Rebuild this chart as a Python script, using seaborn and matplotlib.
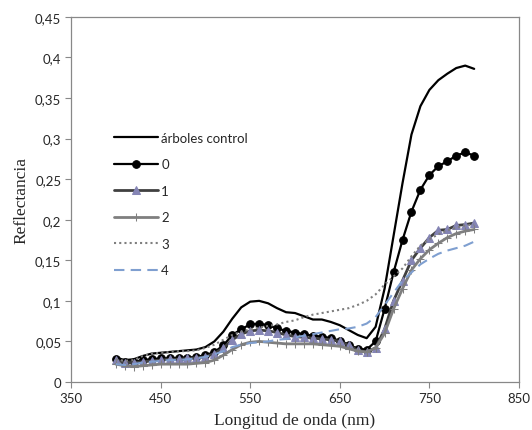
import matplotlib
import matplotlib.pyplot as plt
import pandas as pd
import seaborn as sns
from matplotlib.ticker import FuncFormatter

matplotlib.use("Agg")

WAVELENGTH = [400, 410, 420, 430, 440, 450, 460, 470, 480, 490,
              500, 510, 520, 530, 540, 550, 560, 570, 580, 590,
              600, 610, 620, 630, 640, 650, 660, 670, 680, 690,
              700, 710, 720, 730, 740, 750, 760, 770, 780, 790, 800]

CONTROL = [0.030, 0.027, 0.028, 0.032, 0.035, 0.036, 0.037, 0.038, 0.039, 0.040,
           0.043, 0.050, 0.062, 0.078, 0.092, 0.099, 0.100, 0.097, 0.091, 0.086,
           0.085, 0.081, 0.077, 0.077, 0.074, 0.070, 0.064, 0.058, 0.054, 0.068,
           0.115, 0.180, 0.245, 0.305, 0.340, 0.360, 0.372, 0.380, 0.387, 0.390, 0.386]

T0 = [0.028, 0.025, 0.025, 0.027, 0.028, 0.029, 0.029, 0.030, 0.030, 0.031,
      0.033, 0.037, 0.045, 0.058, 0.065, 0.071, 0.072, 0.070, 0.066, 0.063,
      0.061, 0.059, 0.057, 0.056, 0.054, 0.051, 0.046, 0.041, 0.040, 0.050,
      0.090, 0.135, 0.175, 0.210, 0.237, 0.255, 0.266, 0.272, 0.279, 0.283, 0.279]

T1 = [0.027, 0.024, 0.024, 0.025, 0.026, 0.027, 0.028, 0.028, 0.029, 0.030,
      0.031, 0.035, 0.042, 0.052, 0.059, 0.063, 0.064, 0.063, 0.061, 0.058,
      0.056, 0.055, 0.054, 0.053, 0.052, 0.050, 0.045, 0.039, 0.037, 0.042,
      0.065, 0.100, 0.125, 0.150, 0.165, 0.178, 0.187, 0.188, 0.193, 0.194, 0.196]

T2 = [0.022, 0.020, 0.019, 0.020, 0.021, 0.022, 0.022, 0.022, 0.022, 0.023,
      0.024, 0.027, 0.033, 0.040, 0.046, 0.049, 0.050, 0.049, 0.048, 0.047,
      0.047, 0.047, 0.047, 0.046, 0.045, 0.044, 0.041, 0.038, 0.037, 0.042,
      0.060, 0.090, 0.115, 0.138, 0.152, 0.163, 0.171, 0.178, 0.183, 0.186, 0.188]

T3 = [0.028, 0.026, 0.027, 0.032, 0.035, 0.036, 0.037, 0.038, 0.038, 0.039,
      0.042, 0.046, 0.052, 0.058, 0.062, 0.065, 0.067, 0.069, 0.071, 0.074,
      0.076, 0.080, 0.083, 0.085, 0.087, 0.089, 0.091, 0.095, 0.100, 0.108,
      0.120, 0.130, 0.140, 0.155, 0.168, 0.176, 0.182, 0.187, 0.190, 0.193, 0.194]

T4 = [0.022, 0.021, 0.022, 0.024, 0.025, 0.026, 0.027, 0.027, 0.028, 0.029,
      0.031, 0.034, 0.038, 0.043, 0.046, 0.048, 0.049, 0.050, 0.052, 0.053,
      0.055, 0.057, 0.059, 0.061, 0.063, 0.065, 0.066, 0.068, 0.072, 0.080,
      0.095, 0.110, 0.125, 0.135, 0.145, 0.152, 0.158, 0.162, 0.165, 0.168, 0.173]

X_TICKS = [350, 450, 550, 650, 750, 850]
Y_TICKS = [0, 0.05, 0.1, 0.15, 0.2, 0.25, 0.3, 0.35, 0.4, 0.45]

SERIES = [
    ("árboles control", CONTROL, dict(color="black", lw=1.6)),
    ("0", T0, dict(color="black", lw=1.6, marker="o", ms=5.5, mfc="black", mec="black")),
    ("1", T1, dict(color="#404040", lw=2.0, marker="^", ms=5.5, mfc="#8585b5", mec="#8585b5")),
    ("2", T2, dict(color="#7f7f7f", lw=2.0, marker="+", ms=6, mec="#7f7f7f")),
    ("3", T3, dict(color="#7f7f7f", lw=1.5, linestyle=(0, (1, 1.5)))),
    ("4", T4, dict(color="#7f9fd0", lw=1.5, linestyle=(0, (5, 3)))),
]


def comma_fmt(v, _pos):
    return f"{v:g}".replace(".", ",")


def main() -> None:
    sns.set_theme(style="white")
    plt.rcParams["font.family"] = ["Lato", "DejaVu Sans"]

    fig = plt.figure(figsize=(5.32, 4.31), dpi=100)
    ax = fig.add_axes([0.1335, 0.1114, 0.842, 0.847])

    for name, values, style in SERIES:
        df = pd.DataFrame({"wl": WAVELENGTH, "r": values})
        sns.lineplot(data=df, x="wl", y="r", ax=ax, label=name, **style)

    ax.set_xlim(350, 850)
    ax.set_ylim(0, 0.45)
    ax.set_xticks(X_TICKS)
    ax.set_yticks(Y_TICKS)
    ax.yaxis.set_major_formatter(FuncFormatter(comma_fmt))
    ax.tick_params(axis="both", which="major", direction="out", length=4,
                   width=0.8, color="#888888", labelsize=9.5, pad=3,
                   bottom=True, left=True)

    for side in ["left", "bottom", "right", "top"]:
        ax.spines[side].set_color("#888888")
        ax.spines[side].set_linewidth(0.9)

    ax.set_xlabel("Longitud de onda (nm)", family="Liberation Serif", fontsize=12.5, labelpad=6)
    ax.set_ylabel("Reflectancia", family="Liberation Serif", fontsize=12.5, labelpad=4)

    ax.legend(loc="upper left", bbox_to_anchor=(0.085, 0.70), frameon=False,
              fontsize=9.5, handlelength=3.3, handletextpad=0.25, labelspacing=1.1,
              borderaxespad=0)

    fig.savefig("out.png", dpi=100)
    plt.close(fig)


if __name__ == "__main__":
    main()
